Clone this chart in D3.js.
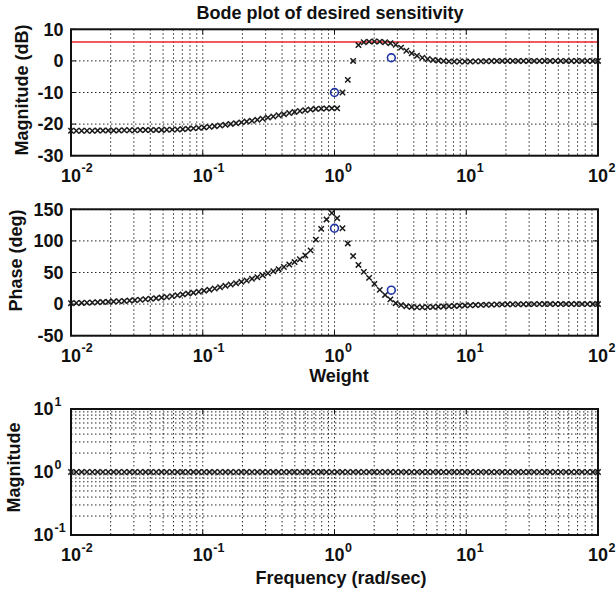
<!DOCTYPE html>
<html>
<head>
<meta charset="utf-8">
<script src="https://cdn.jsdelivr.net/npm/d3@7"></script>
<style>
  html, body { margin: 0; padding: 0; background: #fff; }
  svg text { font-family: "Liberation Sans", Arial, Helvetica, sans-serif; font-weight: bold; fill: #111; }
</style>
</head>
<body>
<svg id="chart" width="616" height="594"></svg>
<script>
// ---------------- DATA ----------------
const freq = [
  0.01, 0.010975, 0.012045, 0.013219, 0.014508, 0.015923, 0.017475, 0.019179, 0.02105, 0.02310,
  0.025354, 0.027826, 0.030539, 0.033516, 0.036784, 0.040370, 0.044306, 0.048626, 0.053367, 0.058570,
  0.064281, 0.070548, 0.077426, 0.084975, 0.093260, 0.10235, 0.11233, 0.12328, 0.13530, 0.14849,
  0.16297, 0.17886, 0.19630, 0.21544, 0.23645, 0.25950, 0.28480, 0.31257, 0.34305, 0.37649,
  0.41320, 0.45349, 0.49770, 0.54623, 0.59948, 0.65793, 0.72208, 0.79248, 0.86975, 0.95455,
  1.0476, 1.1498, 1.2619, 1.3849, 1.5199, 1.6681, 1.8307, 2.0092, 2.2051, 2.4201,
  2.6561, 2.9151, 3.1993, 3.5112, 3.8535, 4.2292, 4.6416, 5.0941, 5.5908, 6.1359,
  6.7342, 7.3907, 8.1113, 8.9022, 9.7701, 10.723, 11.768, 12.915, 14.175, 15.557,
  17.074, 18.738, 20.565, 22.570, 24.771, 27.186, 29.836, 32.745, 35.938, 39.442,
  43.288, 47.508, 52.140, 57.224, 62.803, 68.926, 75.646, 83.022, 91.116, 100
];
const magDb = [
  -22.1, -22.1, -22.1, -22.1, -22.1, -22.05, -22.05, -22.0, -22.0, -22.0,
  -21.95, -21.95, -21.95, -21.9, -21.9, -21.9, -21.85, -21.85, -21.8, -21.75,
  -21.7, -21.6, -21.5, -21.35, -21.2, -21.05, -20.85, -20.65, -20.45, -20.2,
  -19.95, -19.7, -19.45, -19.2, -18.95, -18.65, -18.3, -17.95, -17.6, -17.2,
  -16.85, -16.5, -16.15, -15.85, -15.6, -15.4, -15.2, -15.1, -15.05, -15.0,
  -15.0, -10.0, -6.0, 0.0, 5.0, 5.9, 6.1, 6.15, 6.1, 5.9,
  5.6, 5.1, 4.2, 3.2, 2.4, 1.6, 1.0, 0.6, 0.3, 0.1,
  -0.05, -0.15, -0.2, -0.2, -0.2, -0.2, -0.15, -0.1, -0.1, -0.05,
  0, 0, 0, 0, 0, 0, 0, 0, 0, 0,
  0, 0, 0, 0, 0, 0, 0, 0, 0, 0
];
const phaseDeg = [
  1.5, 1.7, 1.9, 2.2, 2.5, 2.8, 3.2, 3.6, 4.0, 4.5,
  5.0, 5.6, 6.2, 6.9, 7.7, 8.5, 9.4, 10.3, 11.3, 12.6,
  14.0, 15.3, 16.7, 18.1, 19.6, 21.2, 22.8, 24.7, 26.8, 28.9,
  31.0, 33.1, 35.2, 37.4, 40.0, 42.6, 45.5, 48.8, 52.0, 55.3,
  58.7, 62.5, 66.5, 71.0, 77.0, 85.0, 102.0, 119.0, 134.0, 144.0,
  136.0, 120.0, 96.0, 76.0, 62.0, 51.0, 41.5, 32.0, 22.5, 14.5,
  7.5, 1.5, -1.5, -3.5, -4.5, -5.0, -5.0, -4.8, -4.5, -4.1,
  -3.7, -3.3, -2.9, -2.5, -2.1, -1.8, -1.5, -1.2, -1.0, -0.8,
  -0.6, -0.45, -0.35, -0.25, -0.2, -0.15, -0.1, -0.05, 0, 0,
  0, 0, 0, 0, 0, 0, 0, 0, 0, 0
];
const weightMag = [
  1, 1, 1, 1, 1, 1, 1, 1, 1, 1,
  1, 1, 1, 1, 1, 1, 1, 1, 1, 1,
  1, 1, 1, 1, 1, 1, 1, 1, 1, 1,
  1, 1, 1, 1, 1, 1, 1, 1, 1, 1,
  1, 1, 1, 1, 1, 1, 1, 1, 1, 1,
  1, 1, 1, 1, 1, 1, 1, 1, 1, 1,
  1, 1, 1, 1, 1, 1, 1, 1, 1, 1,
  1, 1, 1, 1, 1, 1, 1, 1, 1, 1,
  1, 1, 1, 1, 1, 1, 1, 1, 1, 1,
  1, 1, 1, 1, 1, 1, 1, 1, 1, 1
];
const specFreq = [1, 2.7];
const specMagDb = [-10, 1];
const specPhase = [120, 22];
const boundDb = 6;

const xTickVals = [0.01, 0.1, 1, 10, 100];
const xTickExp = ["-2", "-1", "0", "1", "2"];
const magTicks = [10, 0, -10, -20, -30];
const phaseTicks = [150, 100, 50, 0, -50];
const logYTickVals = [0.1, 1, 10];
const logYTickExp = ["-1", "0", "1"];

const titleText = "Bode plot of desired sensitivity";
const magLabel = "Magnitude (dB)";
const phaseLabel = "Phase (deg)";
const weightXLabel = "Weight";
const weightYLabel = "Magnitude";
const freqLabel = "Frequency (rad/sec)";

// ---------------- LAYOUT ----------------
const svg = d3.select("#chart");
const L = 71, R = 598;
const panels = [
  { top: 29.3, bottom: 155.7 },
  { top: 209.3, bottom: 335.7 },
  { top: 409, bottom: 535 }
];
const x = d3.scaleLog().domain([0.01, 100]).range([L, R]);
const yMag = d3.scaleLinear().domain([-30, 10]).range([panels[0].bottom, panels[0].top]);
const yPh = d3.scaleLinear().domain([-50, 150]).range([panels[1].bottom, panels[1].top]);
const yW = d3.scaleLog().domain([0.1, 10]).range([panels[2].bottom, panels[2].top]);

const gridStyle = g => g.attr("stroke", "#000").attr("stroke-width", 1)
  .attr("stroke-dasharray", "1.5,2.5").attr("fill", "none").attr("opacity", 0.85);

function drawGrid(p, yScale, yGridVals) {
  const g = svg.append("g");
  g.selectAll("line.vx").data(x.ticks()).join("line")
    .attr("x1", d => x(d)).attr("x2", d => x(d))
    .attr("y1", p.top).attr("y2", p.bottom).call(gridStyle);
  g.selectAll("line.hy").data(yGridVals).join("line")
    .attr("x1", L).attr("x2", R)
    .attr("y1", d => yScale(d)).attr("y2", d => yScale(d)).call(gridStyle);
}

function drawBox(p, yScale, yMajor) {
  const g = svg.append("g");
  const tl = 5;
  xTickVals.forEach(v => {
    g.append("line").attr("x1", x(v)).attr("x2", x(v)).attr("y1", p.bottom).attr("y2", p.bottom - tl).attr("stroke", "#111").attr("stroke-width", 1);
    g.append("line").attr("x1", x(v)).attr("x2", x(v)).attr("y1", p.top).attr("y2", p.top + tl).attr("stroke", "#111").attr("stroke-width", 1);
  });
  yMajor.forEach(v => {
    g.append("line").attr("x1", L).attr("x2", L + tl).attr("y1", yScale(v)).attr("y2", yScale(v)).attr("stroke", "#111").attr("stroke-width", 1);
    g.append("line").attr("x1", R).attr("x2", R - tl).attr("y1", yScale(v)).attr("y2", yScale(v)).attr("stroke", "#111").attr("stroke-width", 1);
  });
  g.append("rect").attr("x", L).attr("y", p.top).attr("width", R - L).attr("height", p.bottom - p.top)
    .attr("fill", "none").attr("stroke", "#111").attr("stroke-width", 2);
}

function drawXTickLabels(p) {
  const g = svg.append("g");
  xTickVals.forEach((v, i) => {
    const cx = x(v);
    g.append("text").attr("x", cx).attr("y", p.bottom + 26).attr("text-anchor", "middle")
      .attr("font-size", 18).text("10");
    g.append("text").attr("x", cx + 10.5).attr("y", p.bottom + 16.5).attr("text-anchor", "start")
      .attr("font-size", 12.5).text(xTickExp[i]);
  });
}

function drawLinearYLabels(yScale, vals) {
  const g = svg.append("g");
  g.selectAll("text").data(vals).join("text")
    .attr("x", 63.5).attr("y", d => yScale(d) + 6.3).attr("text-anchor", "end")
    .attr("font-size", 18).text(d => d);
}

function drawMarkers(xs, ys, yScale) {
  const g = svg.append("g");
  const xPath = "M-2.7,-2.7L2.7,2.7M-2.7,2.7L2.7,-2.7";
  g.selectAll("path").data(xs.map((f, i) => [f, ys[i]])).join("path")
    .attr("d", xPath)
    .attr("transform", d => `translate(${x(d[0])},${yScale(d[1])})`)
    .attr("stroke", "#1a1a1a").attr("stroke-width", 1.5).attr("fill", "none");
}

function drawCircles(xs, ys, yScale) {
  svg.append("g").selectAll("circle").data(xs.map((f, i) => [f, ys[i]])).join("circle")
    .attr("cx", d => x(d[0])).attr("cy", d => yScale(d[1])).attr("r", 3.9)
    .attr("fill", "none").attr("stroke", "#1f33a6").attr("stroke-width", 1.6);
}

function yLabel(text, cx, cy) {
  svg.append("text").attr("transform", `translate(${cx},${cy}) rotate(-90)`)
    .attr("text-anchor", "middle").attr("font-size", 18).text(text);
}

// ---------- Panel 1: magnitude ----------
drawGrid(panels[0], yMag, magTicks);
svg.append("line").attr("x1", L).attr("x2", R)
  .attr("y1", yMag(boundDb)).attr("y2", yMag(boundDb))
  .attr("stroke", "#e8232b").attr("stroke-width", 1.6);
drawMarkers(freq, magDb, yMag);
drawCircles(specFreq, specMagDb, yMag);
drawBox(panels[0], yMag, magTicks);
drawXTickLabels(panels[0]);
drawLinearYLabels(yMag, magTicks);
yLabel(magLabel, 28, 90);
svg.append("text").attr("x", 330).attr("y", 19).attr("text-anchor", "middle")
  .attr("font-size", 18).text(titleText);

// ---------- Panel 2: phase ----------
drawGrid(panels[1], yPh, phaseTicks);
drawMarkers(freq, phaseDeg, yPh);
drawCircles(specFreq, specPhase, yPh);
drawBox(panels[1], yPh, phaseTicks);
drawXTickLabels(panels[1]);
drawLinearYLabels(yPh, phaseTicks);
yLabel(phaseLabel, 22, 260.5);
svg.append("text").attr("x", 339).attr("y", 382).attr("text-anchor", "middle")
  .attr("font-size", 18).text(weightXLabel);

// ---------- Panel 3: weight magnitude ----------
drawGrid(panels[2], yW, yW.ticks());
drawMarkers(freq, weightMag, yW);
drawBox(panels[2], yW, logYTickVals);
drawXTickLabels(panels[2]);
{
  const g = svg.append("g");
  logYTickVals.forEach((v, i) => {
    g.append("text").attr("x", 53.5).attr("y", yW(v) + 6.3).attr("text-anchor", "end")
      .attr("font-size", 18).text("10");
    g.append("text").attr("x", 54.5).attr("y", yW(v) - 3).attr("text-anchor", "start")
      .attr("font-size", 12.5).text(logYTickExp[i]);
  });
}
yLabel(weightYLabel, 20, 467.5);
svg.append("text").attr("x", 341).attr("y", 584).attr("text-anchor", "middle")
  .attr("font-size", 18).text(freqLabel);
</script>
</body>
</html>
